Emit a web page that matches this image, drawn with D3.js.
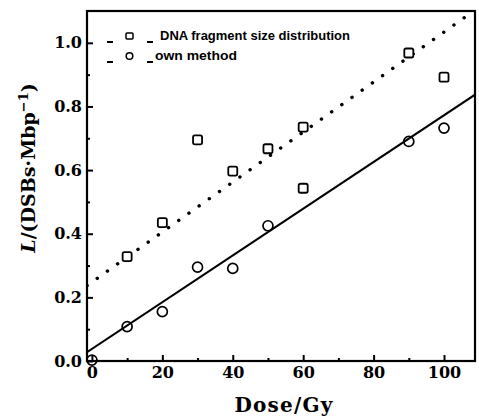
<!DOCTYPE html>
<html>
<head>
<meta charset="utf-8">
<script src="https://cdn.jsdelivr.net/npm/d3@7"></script>
<style>
  html, body { margin: 0; padding: 0; background: #fff; }
  svg { display: block; }
</style>
</head>
<body>
<svg id="chart" width="479" height="419"></svg>
<script>
// ---- data ----
const dnaDose = [10, 20, 30, 40, 50, 60, 60, 90, 100];
const dnaL    = [0.328, 0.435, 0.695, 0.597, 0.667, 0.735, 0.543, 0.968, 0.892];
const ownDose = [0, 10, 20, 30, 40, 50, 90, 100];
const ownL    = [0.003, 0.108, 0.155, 0.295, 0.291, 0.425, 0.690, 0.732];
// fitted lines, endpoints read at the plot edges
const fitDose = [-1.4, 108.8];
const dnaFitL = [0.237, 1.103];
const ownFitL = [0.028, 0.837];
const xMajorTicks = [0, 20, 40, 60, 80, 100];
const xMinorTicks = [10, 30, 50, 70, 90];
const yMajorTicks = [0.0, 0.2, 0.4, 0.6, 0.8, 1.0];
const yMinorTicks = [0.1, 0.3, 0.5, 0.7, 0.9];
const legendLabels = ["DNA fragment size distribution", "own method"];

(function () {
// ---- layout ----
const pL = 87, pR = 475, pT = 11, pB = 361;
const svg = d3.select("#chart");
const x = d3.scaleLinear().domain([-1.4, 108.8]).range([pL, pR]);
const y = d3.scaleLinear().domain([0, 1.1]).range([pB, pT]);

const serif = "'DejaVu Serif', serif";
const sans = "'Liberation Sans', Arial, sans-serif";

svg.append("defs").append("clipPath").attr("id", "plotclip")
  .append("rect").attr("x", pL).attr("y", pT)
  .attr("width", pR - pL).attr("height", pB - pT);

// ---- axes ----
const gx = svg.append("g").attr("transform", `translate(0,${pB})`)
  .call(d3.axisBottom(x).tickValues(xMajorTicks).tickSize(-6).tickPadding(6)
    .tickFormat(d3.format("d")));
const gxm = svg.append("g").attr("transform", `translate(0,${pB})`)
  .call(d3.axisBottom(x).tickValues(xMinorTicks).tickSize(-3).tickFormat(""));
const gy = svg.append("g").attr("transform", `translate(${pL},0)`)
  .call(d3.axisLeft(y).tickValues(yMajorTicks).tickSize(-6).tickPadding(5)
    .tickFormat(d3.format(".1f")));
const gym = svg.append("g").attr("transform", `translate(${pL},0)`)
  .call(d3.axisLeft(y).tickValues(yMinorTicks).tickSize(-3).tickFormat(""));

[gx, gxm, gy, gym].forEach(g => {
  g.select(".domain").remove();
  g.selectAll(".tick line").attr("stroke", "#000").attr("stroke-width", 2);
  g.selectAll("text").attr("font-family", serif).attr("font-weight", "bold")
    .attr("font-size", 16).attr("fill", "#000");
});

// ---- fit lines ----
const line = d3.line().x(d => x(d[0])).y(d => y(d[1]));
const plot = svg.append("g").attr("clip-path", "url(#plotclip)");
plot.append("path").datum(d3.zip(fitDose, dnaFitL)).attr("d", line)
  .attr("fill", "none").attr("stroke", "#000").attr("stroke-width", 3.4)
  .attr("stroke-linecap", "round").attr("stroke-dasharray", "0.1 12.4");
plot.append("path").datum(d3.zip(fitDose, ownFitL)).attr("d", line)
  .attr("fill", "none").attr("stroke", "#000").attr("stroke-width", 2);

// ---- markers ----
const sq = 9;
svg.append("g").selectAll("rect").data(d3.zip(dnaDose, dnaL)).join("rect")
  .attr("x", d => x(d[0]) - sq / 2).attr("y", d => y(d[1]) - sq / 2)
  .attr("width", sq).attr("height", sq).attr("rx", 1.8)
  .attr("fill", "#fff").attr("stroke", "#000").attr("stroke-width", 1.8);
svg.append("g").selectAll("circle").data(d3.zip(ownDose, ownL)).join("circle")
  .attr("cx", d => x(d[0])).attr("cy", d => y(d[1])).attr("r", 5)
  .attr("fill", "none").attr("stroke", "#000").attr("stroke-width", 1.7);

// ---- frame ----
svg.append("rect").attr("x", pL).attr("y", pT)
  .attr("width", pR - pL).attr("height", pB - pT)
  .attr("fill", "none").attr("stroke", "#000").attr("stroke-width", 2.2);

// ---- legend ----
const leg = svg.append("g");
const rows = [
  { y: 36, label: legendLabels[0], shape: "square", len: 190, tx: 160 },
  { y: 56, label: legendLabels[1], shape: "circle", len: 82, tx: 155 }
];
rows.forEach(r => {
  const dy = 6;
  leg.append("line").attr("x1", 107).attr("x2", 113).attr("y1", r.y + dy).attr("y2", r.y + dy)
    .attr("stroke", "#000").attr("stroke-width", 2);
  leg.append("line").attr("x1", 147).attr("x2", 153).attr("y1", r.y + dy).attr("y2", r.y + dy)
    .attr("stroke", "#000").attr("stroke-width", 2);
  if (r.shape === "square") {
    leg.append("rect").attr("x", 126).attr("y", r.y - 3).attr("width", 7).attr("height", 6)
      .attr("rx", 1).attr("fill", "none").attr("stroke", "#000").attr("stroke-width", 1.5);
  } else {
    leg.append("circle").attr("cx", 129.5).attr("cy", r.y).attr("r", 3.3)
      .attr("fill", "none").attr("stroke", "#000").attr("stroke-width", 1.5);
  }
  leg.append("text").attr("x", r.tx).attr("y", r.y + 4)
    .attr("font-family", sans).attr("font-weight", "bold").attr("font-size", 12.5)
    .attr("textLength", r.len).attr("lengthAdjust", "spacingAndGlyphs")
    .attr("fill", "#000").text(r.label);
});

// ---- axis titles ----
svg.append("text").attr("x", 284).attr("y", 412).attr("text-anchor", "middle")
  .attr("font-family", serif).attr("font-weight", "bold").attr("font-size", 20)
  .attr("letter-spacing", 1.2).attr("fill", "#000").text("Dose/Gy");

const yt = svg.append("text").attr("transform", "translate(35,168) rotate(-90)")
  .attr("text-anchor", "middle").attr("font-family", serif).attr("font-weight", "bold")
  .attr("font-size", 19).attr("fill", "#000");
yt.append("tspan").attr("font-style", "italic").text("L");
yt.append("tspan").text("/(DSBs·Mbp");
yt.append("tspan").attr("font-size", 13).attr("dy", -7).text("−1");
yt.append("tspan").attr("dy", 7).text(")");
})();
</script>
</body>
</html>
